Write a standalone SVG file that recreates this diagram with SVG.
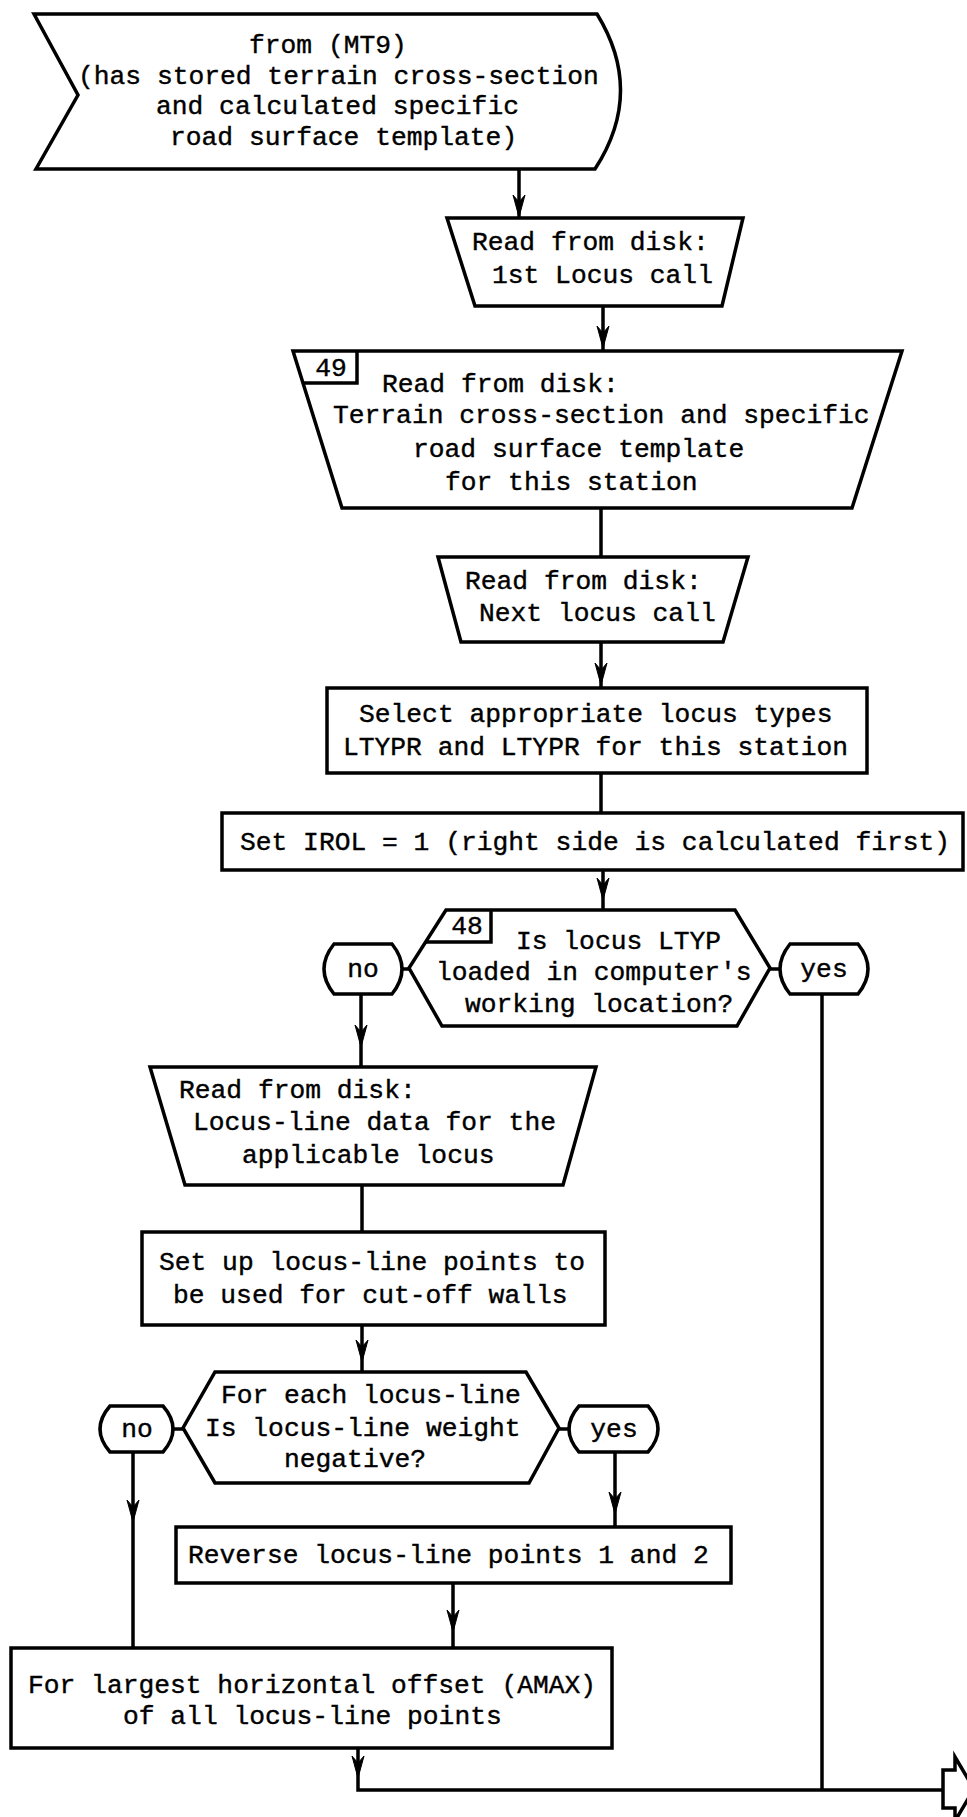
<svg xmlns="http://www.w3.org/2000/svg" xmlns:xlink="http://www.w3.org/1999/xlink" width="967" height="1817" viewBox="0 0 967 1817">
<style>
.s{fill:#fff;stroke:#000;stroke-width:3.5;stroke-linejoin:miter}
.c{fill:none;stroke:#000;stroke-width:3.5}
text{font-family:"Liberation Mono",monospace;font-size:26.3px;fill:#000;stroke:#000;stroke-width:0.4}
.m{text-anchor:middle}
</style>
<defs>
<path id="ah" d="M0,0 L-6,-22 L0,-15 L6,-22 Z" fill="#000" stroke="#000" stroke-width="1"/>
</defs>
<rect width="967" height="1817" fill="#fff"/>
<g id="connectors">
<path class="c" d="M519,169 V218"/>
<path class="c" d="M603,306 V351"/>
<path class="c" d="M601,508 V557"/>
<path class="c" d="M601,642 V688"/>
<path class="c" d="M601,773 V813"/>
<path class="c" d="M603,870 V910"/>
<path class="c" d="M402,969 H409"/>
<path class="c" d="M770,969 H780"/>
<path class="c" d="M361,994 V1067"/>
<path class="c" d="M822,994 V1790"/>
<path class="c" d="M362,1185 V1232"/>
<path class="c" d="M362,1325 V1372"/>
<path class="c" d="M173,1429 H183"/>
<path class="c" d="M559,1429 H569"/>
<path class="c" d="M133,1452 V1648"/>
<path class="c" d="M615,1452 V1527"/>
<path class="c" d="M453,1583 V1648"/>
<path class="c" d="M358,1748 V1790 H943"/>
<use xlink:href="#ah" x="519" y="217"/>
<use xlink:href="#ah" x="603" y="348"/>
<use xlink:href="#ah" x="601" y="685"/>
<use xlink:href="#ah" x="603" y="900"/>
<use xlink:href="#ah" x="361" y="1047"/>
<use xlink:href="#ah" x="362" y="1362"/>
<use xlink:href="#ah" x="133" y="1522"/>
<use xlink:href="#ah" x="615" y="1514"/>
<use xlink:href="#ah" x="453" y="1632"/>
<use xlink:href="#ah" x="358" y="1778"/>
</g>
<g id="start">
<path class="s" d="M34,14 H597 Q645,92 595,169 H36 L78,95 Z"/>
<text x="249" y="53">from (MT9)</text>
<text x="78" y="84">(has stored terrain cross-section</text>
<text x="156" y="114">and calculated specific</text>
<text x="170" y="145">road surface template)</text>
</g>
<g id="read1">
<polygon class="s" points="447,218 743,218 722,306 475,306"/>
<text x="472" y="250">Read from disk:</text>
<text x="492" y="283">1st Locus call</text>
</g>
<g id="read49">
<polygon class="s" points="293,351 902,351 852,508 342,508"/>
<path class="c" d="M303,383 H357 V351"/>
<text class="m" x="331" y="376">49</text>
<text x="382" y="392">Read from disk:</text>
<text x="333" y="423">Terrain cross-section and specific</text>
<text x="413" y="457">road surface template</text>
<text x="445" y="490">for this station</text>
</g>
<g id="readnext">
<polygon class="s" points="438,557 748,557 723,642 461,642"/>
<text x="465" y="589">Read from disk:</text>
<text x="479" y="621">Next locus call</text>
</g>
<g id="select">
<rect class="s" x="327" y="688" width="540" height="85"/>
<text x="359" y="722">Select appropriate locus types</text>
<text x="343" y="755">LTYPR and LTYPR for this station</text>
</g>
<g id="setirol">
<rect class="s" x="222" y="813" width="741" height="57"/>
<text x="240" y="850">Set IROL = 1 (right side is calculated first)</text>
</g>
<g id="dec48">
<polygon class="s" points="446,910 735,910 770,968 737,1026 442,1026 409,968"/>
<path class="c" d="M426,942 H491 V910"/>
<text class="m" x="467" y="934">48</text>
<text x="516" y="949">Is locus LTYP</text>
<text x="436" y="980">loaded in computer's</text>
<text x="465" y="1012">working location?</text>
</g>
<g id="no1">
<path class="s" d="M334,944 H392 Q412,969 392,994 H334 Q314,969 334,944 Z"/>
<text class="m" x="363" y="977">no</text>
</g>
<g id="yes1">
<path class="s" d="M790,944 H858 Q878,969 858,994 H790 Q770,969 790,944 Z"/>
<text class="m" x="824" y="977">yes</text>
</g>
<g id="readlocus">
<polygon class="s" points="150,1067 596,1067 563,1185 185,1185"/>
<text x="179" y="1098">Read from disk:</text>
<text x="193" y="1130">Locus-line data for the</text>
<text x="242" y="1163">applicable locus</text>
</g>
<g id="setup">
<rect class="s" x="142" y="1232" width="463" height="93"/>
<text x="159" y="1270">Set up locus-line points to</text>
<text x="173" y="1303">be used for cut-off walls</text>
</g>
<g id="decweight">
<polygon class="s" points="215,1372 526,1372 559,1428 529,1483 215,1483 183,1428"/>
<text x="221" y="1403">For each locus-line</text>
<text x="205" y="1436">Is locus-line weight</text>
<text x="284" y="1467">negative?</text>
</g>
<g id="no2">
<path class="s" d="M110,1406 H163 Q183,1429 163,1452 H110 Q90,1429 110,1406 Z"/>
<text class="m" x="137" y="1437">no</text>
</g>
<g id="yes2">
<path class="s" d="M579,1406 H648 Q668,1429 648,1452 H579 Q559,1429 579,1406 Z"/>
<text class="m" x="614" y="1437">yes</text>
</g>
<g id="reverse">
<rect class="s" x="176" y="1527" width="555" height="56"/>
<text x="188" y="1563">Reverse locus-line points 1 and 2</text>
</g>
<g id="amax">
<rect class="s" x="11" y="1648" width="601" height="100"/>
<text x="28" y="1693">For largest horizontal offset (AMAX)</text>
<text x="123" y="1724">of all locus-line points</text>
</g>
<g id="offpage">
<polygon class="s" points="943,1770 955,1770 955,1757 974,1789 955,1821 955,1808 943,1808"/>
</g>
</svg>
